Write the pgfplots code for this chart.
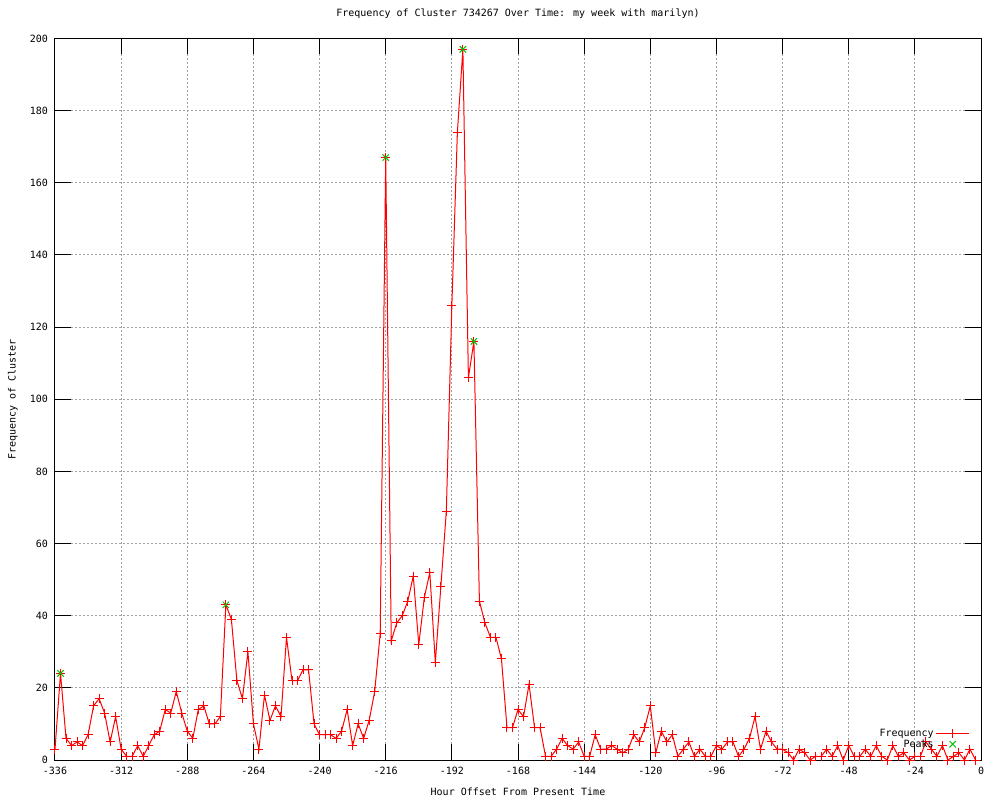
\documentclass[border=0pt]{standalone}
\usepackage{fontspec}
\setmainfont{DejaVu Sans Mono}
\usepackage{pgfplots}
\pgfplotsset{compat=1.18}
\definecolor{gpred}{RGB}{255,0,0}
\definecolor{gpgreen}{RGB}{0,192,0}
\definecolor{gridgray}{RGB}{160,160,160}
\begin{document}
\begin{tikzpicture}
\begin{axis}[name=ax, scale only axis, width=926pt, height=721.5pt,
  xmin=-336, xmax=0, ymin=0, ymax=200,
  xtick={-336,-312,...,0}, ytick={0,20,...,200},
  tick align=inside, major tick length=16pt,
  tick style={black, line width=1pt},
  axis line style={black, line width=1pt},
  grid=major, major grid style={gridgray, dash pattern=on 2pt off 2pt, line width=1pt},
  font=\fontsize{10}{12}\selectfont,
  /pgf/number format/assume math mode=true,
  xticklabel style={yshift=-3.5pt},
  yticklabel style={xshift=-3.5pt},
  title={Frequency of Cluster 734267 Over Time: my week with marilyn)},
  title style={at={(0.5,1.026)}, anchor=center, inner sep=0pt},
  xlabel={Hour Offset From Present Time},
  xlabel style={at={(0.5,-0.0444)}, anchor=center, inner sep=0pt},
  ylabel={Frequency of Cluster},
  ylabel style={at={(-0.0454,0.5)}, anchor=center, inner sep=0pt},
  legend cell align=right, legend plot pos=right,
  legend style={at={(0.988,0.0125)}, anchor=south east, draw=none, fill=none,
    inner sep=0pt, row sep=-2pt, font=\fontsize{10}{12}\selectfont,
    nodes={inner sep=2pt}},
  legend image code/.code={\draw[mark repeat=2,mark phase=2,#1] plot coordinates {(0pt,0pt) (16.5pt,0pt) (33pt,0pt)};},
]
\addplot[gpred, line width=1pt, mark=+, mark size=4.5pt, mark options={solid}] coordinates {
(-336,3) (-334,24) (-332,6) (-330,4) (-328,5) (-326,4) (-324,7) (-322,15) (-320,17) (-318,13)
(-316,5) (-314,12) (-312,3) (-310,1) (-308,1) (-306,4) (-304,1) (-302,4) (-300,7) (-298,8)
(-296,14) (-294,13) (-292,19) (-290,13) (-288,8) (-286,6) (-284,14) (-282,15) (-280,10) (-278,10)
(-276,12) (-274,43) (-272,39) (-270,22) (-268,17) (-266,30) (-264,10) (-262,3) (-260,18) (-258,11)
(-256,15) (-254,12) (-252,34) (-250,22) (-248,22) (-246,25) (-244,25) (-242,10) (-240,7) (-238,7)
(-236,7) (-234,6) (-232,8) (-230,14) (-228,4) (-226,10) (-224,6) (-222,11) (-220,19) (-218,35)
(-216,167) (-214,33) (-212,38) (-210,40) (-208,44) (-206,51) (-204,32) (-202,45) (-200,52) (-198,27)
(-196,48) (-194,69) (-192,126) (-190,174) (-188,197) (-186,106) (-184,116) (-182,44) (-180,38) (-178,34)
(-176,34) (-174,28) (-172,9) (-170,9) (-168,14) (-166,12) (-164,21) (-162,9) (-160,9) (-158,1)
(-156,1) (-154,3) (-152,6) (-150,4) (-148,3) (-146,5) (-144,1) (-142,1) (-140,7) (-138,3)
(-136,3) (-134,4) (-132,3) (-130,2) (-128,3) (-126,7) (-124,5) (-122,9) (-120,15) (-118,2)
(-116,8) (-114,5) (-112,7) (-110,1) (-108,3) (-106,5) (-104,1) (-102,3) (-100,1) (-98,1)
(-96,4) (-94,3) (-92,5) (-90,5) (-88,1) (-86,3) (-84,6) (-82,12) (-80,3) (-78,8)
(-76,5) (-74,3) (-72,3) (-70,2) (-68,0) (-66,3) (-64,2) (-62,0) (-60,1) (-58,1)
(-56,3) (-54,1) (-52,4) (-50,0) (-48,4) (-46,1) (-44,1) (-42,3) (-40,1) (-38,4)
(-36,1) (-34,0) (-32,4) (-30,1) (-28,2) (-26,0) (-24,1) (-22,1) (-20,5) (-18,3)
(-16,1) (-14,4) (-12,0) (-10,1) (-8,2) (-6,0) (-4,3) (-2,0)
};
\addlegendentry{Frequency}
\addplot[gpgreen, only marks, line width=1pt, mark=x, mark size=4.5pt] coordinates {
(-334,24) (-274,43) (-216,167) (-188,197) (-184,116)
};
\addlegendentry{Peaks}
\end{axis}
\pgfresetboundingbox
\path[use as bounding box] ([shift={(-55pt,-40pt)}]ax.south west) rectangle ([shift={(19pt,38.5pt)}]ax.north east);
\end{tikzpicture}
\end{document}
